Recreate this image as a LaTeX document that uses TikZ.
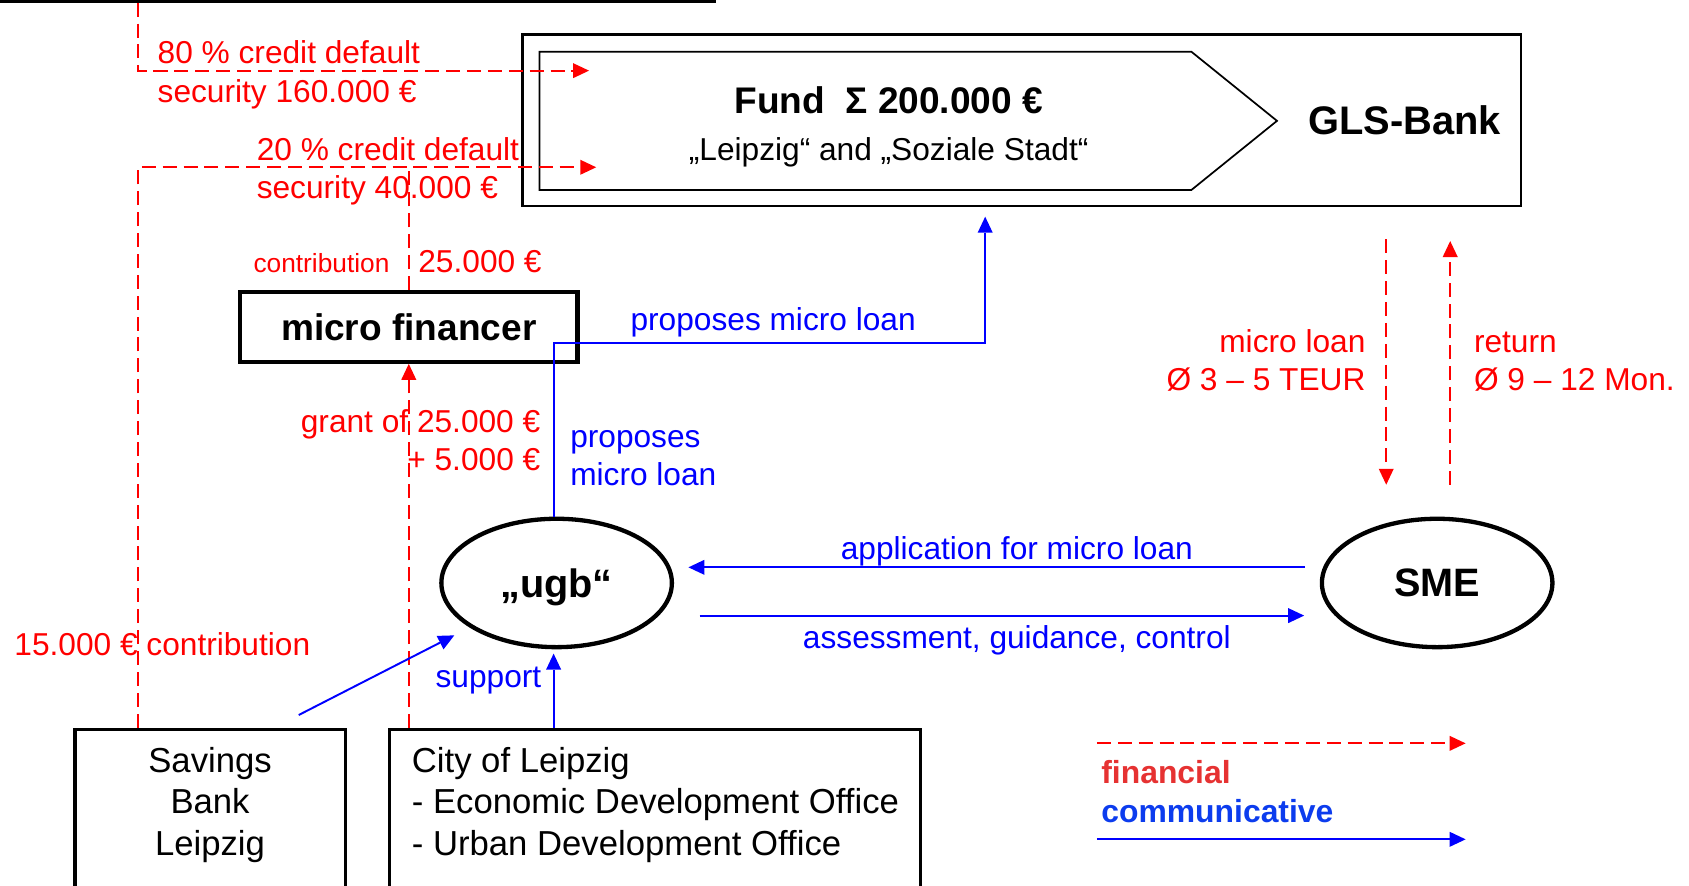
\documentclass[tikz,border=0pt]{standalone}
\usepackage{fontspec}
\setmainfont{Liberation Sans}
\colorlet{finred}{red}
\colorlet{comblue}{blue}
\definecolor{legred}{RGB}{230,50,50}
\definecolor{legblue}{RGB}{12,60,238}
\usetikzlibrary{positioning, fit, arrows.meta, shapes.geometric}

\begin{document}
\begin{tikzpicture}[
    x=0.5pt, y=-0.5pt,
    tip/.style = {-{Triangle[length=7.4pt, width=7pt, line width=0pt]}},
    fin/.style = {draw=finred, line width=0.9pt,
      dash pattern=on 6.5pt off 3.2pt, tip},
    com/.style = {draw=comblue, line width=0.9pt, tip},
    lbl/.style = {font=\fontsize{14.7}{17.85}\selectfont, inner sep=0pt},
    finlbl/.style = {lbl, text=finred},
    comlbl/.style = {lbl, text=comblue},
    title/.style = {font=\fontsize{17.2}{20}\selectfont\bfseries, inner sep=0pt},
    legend/.style = {font=\fontsize{14.8}{17}\selectfont\bfseries,
      inner sep=0pt, anchor=base west},
    actor/.style = {ellipse, draw, line width=2pt, minimum width=107pt,
      minimum height=59.6pt, text depth=0pt,
      font=\fontsize{18.4}{20}\selectfont\bfseries},
    box/.style = {draw, line width=1.6pt, anchor=north, minimum height=100pt},
    boxtxt/.style = {font=\fontsize{16.1}{19.2}\selectfont, inner sep=0pt},
  ]
\useasboundingbox (0,0) rectangle (1568,822);

\node[draw, line width=1.5pt, fit={(-20,-80) (663.5,1)}, inner sep=0pt] (top) {};
\node[draw, line width=1pt, fit={(485,32) (1412,191.5)}, inner sep=0pt] (gls) {};
\draw[line width=0.8pt] (500.8,48) -- (1106,48) -- (1185.5,112.2)
  -- (1106,176.4) -- (500.8,176.4) -- cycle;
\node[title, anchor=base] (fund) at (825,105.5) {Fund\ \ Σ 200.000 €};
\node[lbl, anchor=base] (fundsub) at (825,149) {„Leipzig“ and „Soziale Stadt“};
\node[title, font=\fontsize{18.5}{20}\selectfont\bfseries, anchor=base]
  (glsname) at (1304,124.6) {GLS-Bank};

\node[draw, line width=2pt, minimum width=156.5pt, minimum height=32.3pt,
  title] (mf) at (379.5,303.5) {micro financer};
\node[actor] (ugb) at (516.75,541.2) {„ugb“};
\node[actor] (sme) at (1334.2,541.2) {SME};

\node[box, minimum width=125.5pt] (savings) at (195,675.5) {};
\node[box, minimum width=246.5pt] (city) at (608,675.5) {};
\node[boxtxt, anchor=base, align=center] (savingstxt) at (195,794)
  {Savings\\Bank\\Leipzig};
\node[boxtxt, anchor=base west, align=left] (citytxt) at (382,794)
  {City of Leipzig\\- Economic Development Office\\- Urban Development Office};

\coordinate (lane) at (128,0);
\coordinate (sec80) at (546.8,65.6);
\coordinate (sec20) at (553.5,155.3);
\coordinate (bend) at (914.6,318.1);
\coordinate (loan) at (1286.9,0);
\coordinate (ret) at (1346.3,0);

\draw[fin] (top.south -| lane) |- (sec80);
\draw[fin] (savings.north -| lane) |- (sec20);
\draw[fin, -] (mf.north) -- (mf.north |- sec20);
\draw[fin] (mf.south |- city.north) -- (mf.south);
\draw[fin, shorten <=14.85pt, shorten >=14.8pt] (gls.south -| loan) -- (sme.north -| loan);
\draw[fin, shorten <=14.8pt, shorten >=15.65pt] (sme.north -| ret) -- (gls.south -| ret);

\draw[com, shorten >=4.35pt] ([xshift=-1.4pt]ugb.north) |- (bend) -- (gls.south -| bend);
\draw[com, shorten <=6.75pt, shorten >=6.7pt]
  ([yshift=7.25pt]sme.west) -- ([yshift=7.25pt]ugb.east);
\draw[com, shorten <=11.85pt, shorten >=7.25pt]
  ([yshift=-15.15pt]ugb.east) -- ([yshift=-15.15pt]sme.west);
\draw[com, shorten >=8pt] ([xshift=-22.4pt, yshift=5.85pt]savings.north east) -- (ugb);
\draw[com, shorten >=2pt] ([xshift=-1.4pt]ugb.south |- city.north) -- ([xshift=-1.4pt]ugb.south);

\node[finlbl, anchor=base west, align=left] (lbl80) at (146,95)
  {80 \% credit default\\security 160.000 €};
\node[finlbl, anchor=base west, align=left] (lbl20) at (238,184.6)
  {20 \% credit default\\security 40.000 €};
\node[finlbl, font=\fontsize{12.2}{14}\selectfont, anchor=base west]
  (lblcontr) at (235,252.6) {contribution};
\node[finlbl, anchor=base west] (lbl25) at (388,252.6) {25.000 €};
\node[finlbl, anchor=base east, align=right] (lblgrant) at (502,436.8)
  {grant of 25.000 €\\+ 5.000 €};
\node[finlbl, anchor=base west] (lbl15) at (13,608.5) {15.000 € contribution};
\node[finlbl, anchor=base east, align=right] (lblloan) at (1268,362.5)
  {micro loan\\Ø 3 – 5 TEUR};
\node[finlbl, anchor=base west, align=left] (lblret) at (1368,362.5)
  {return\\Ø 9 – 12 Mon.};

\node[comlbl, anchor=base west] (lblprop) at (585,306.5) {proposes micro loan};
\node[comlbl, anchor=base west, align=left] (lblprop2) at (529,450.7)
  {proposes\\micro loan};
\node[comlbl, anchor=base] (lblappl) at (944,519.6) {application for micro loan};
\node[comlbl, anchor=base] (lblass) at (944,602.4) {assessment, guidance, control};
\node[comlbl, anchor=base west] (lblsupp) at (404,638) {support};

\coordinate (legfa) at (1018.3,690.1);
\coordinate (legfb) at (1360.6,690.1);
\coordinate (legca) at (1018.3,779.2);
\coordinate (legcb) at (1360.6,779.2);
\draw[fin] (legfa) -- (legfb);
\node[legend, text=legred] (legfin) at (1022,727.6) {financial};
\node[legend, text=legblue] (legcom) at (1022,763.2) {communicative};
\draw[com] (legca) -- (legcb);
\end{tikzpicture}
\end{document}
